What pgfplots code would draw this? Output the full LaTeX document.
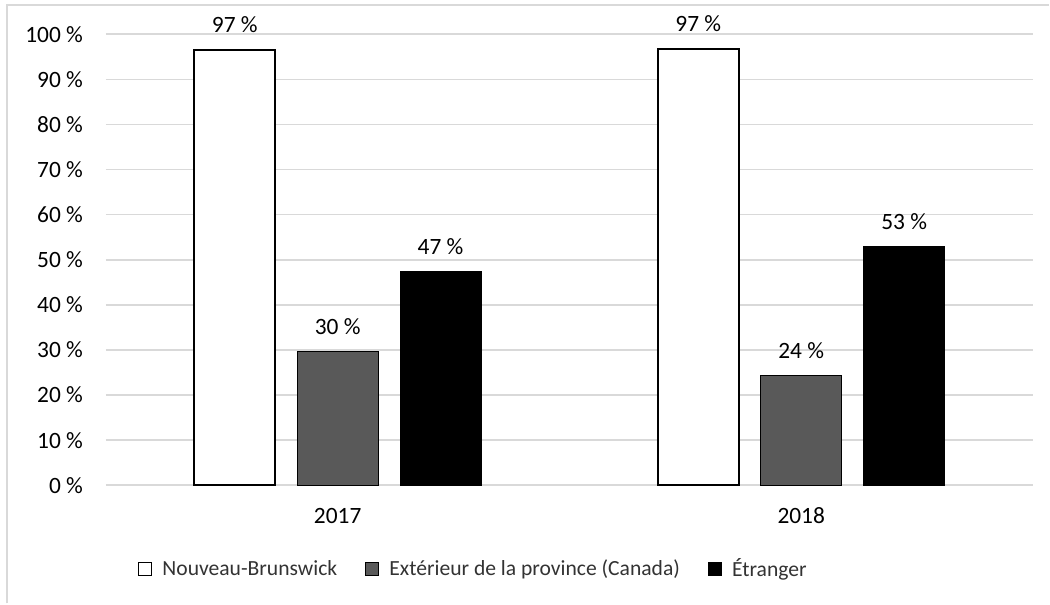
\documentclass[border=0pt]{standalone}
\usepackage{pgfplots}
\pgfplotsset{compat=1.18}
\usepackage{fontspec}
\setmainfont{Carlito}
\definecolor{gridc}{HTML}{D9D9D9}
\definecolor{extc}{HTML}{595959}
\begin{document}
\begin{tikzpicture}[font=\fontsize{11.7}{14}\selectfont]
\begin{axis}[
  at={(0,0)}, anchor=south west,
  scale only axis, width=464pt, height=225.7pt,
  xmin=-0.5, xmax=1.5, ymin=0, ymax=100,
  ybar=11pt, bar width=40.5pt,
  xtick={0,1}, xticklabels={2017,2018},
  ytick={0,10,...,100},
  yticklabel={\pgfmathprintnumber{\tick}~\%},
  /pgf/number format/assume math mode=true,
  major tick length=0pt,
  ymajorgrids, grid style={gridc, line width=0.8pt},
  axis x line*=bottom, axis y line*=left,
  y axis line style={draw=none},
  x axis line style={gridc, line width=0.8pt, -},
  xticklabel style={yshift=-7.8pt},
  yticklabel style={xshift=-8pt},
  clip=false,
  nodes near coords={\pgfmathprintnumber[fixed,precision=0]{\pgfplotspointmeta}~\%},
  every node near coord/.append style={anchor=base, yshift=8.5pt, black},
  legend columns=3,
  legend style={draw=none, at={(0.0345,-0.186)}, anchor=west, inner sep=0pt,
    font=\fontsize{10.8}{13}\selectfont, text=black!80,
    /tikz/every odd column/.append style={column sep=3pt},
    /tikz/every even column/.append style={column sep=12pt}},
  legend image code/.code={\draw[#1, line width=0.6pt, draw=black] (0pt,-3.25pt) rectangle (6.5pt,3.25pt);},
]
\addplot[draw=black, fill=white, line width=1pt] coordinates {(0,96.6) (1,96.8)};
\addplot[draw=black, fill=extc, line width=0.6pt] coordinates {(0,29.7) (1,24.4)};
\addplot[draw=black, fill=black, line width=0.6pt] coordinates {(0,47.3) (1,52.9)};
\legend{Nouveau-Brunswick, Extérieur de la province (Canada), Étranger}
\end{axis}
\draw[gridc, line width=1pt] (-49.25pt,-59.15pt) -- (-49.25pt,240.1pt) -- (472pt,240.1pt);
\path[use as bounding box] (-53pt,-59.15pt) rectangle (472pt,242.85pt);
\end{tikzpicture}
\end{document}
